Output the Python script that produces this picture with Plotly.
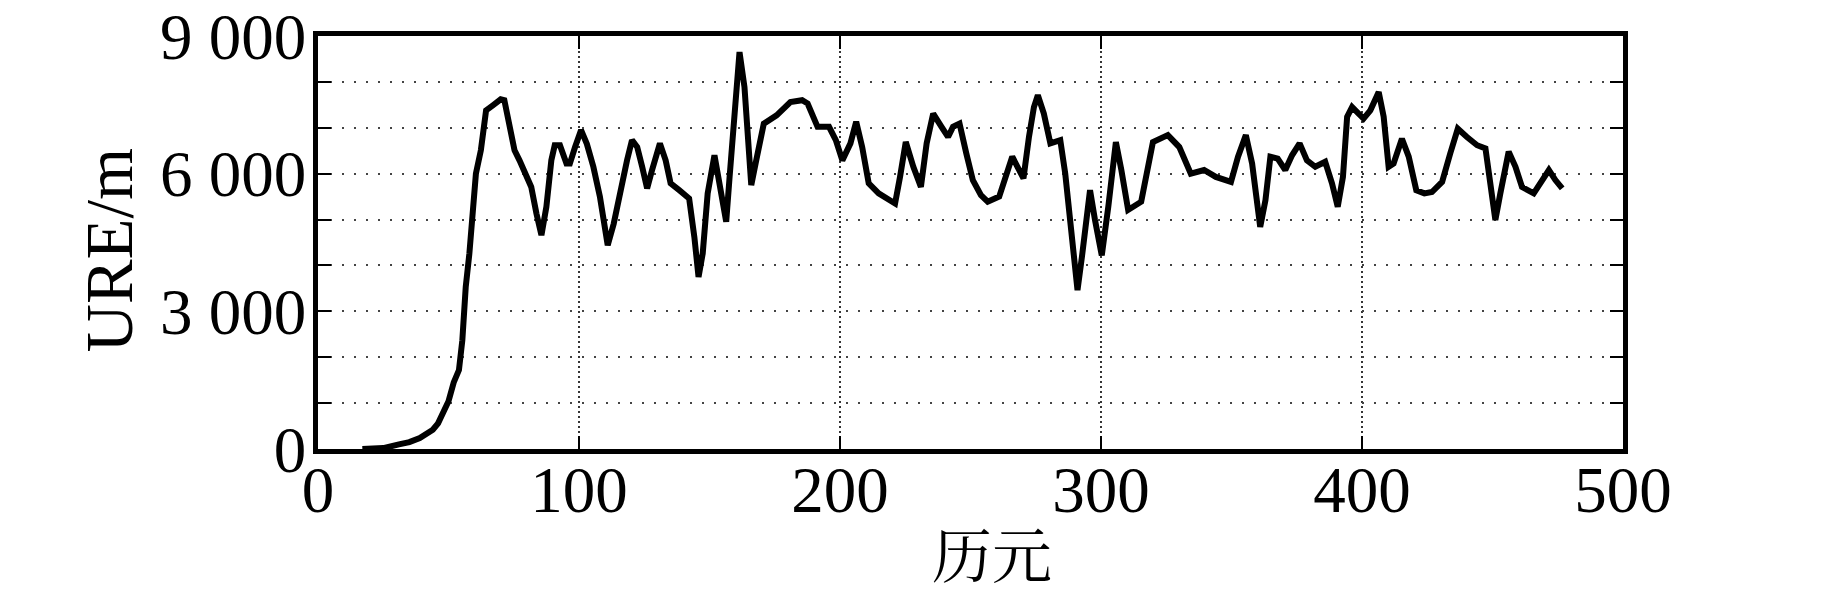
import plotly.graph_objects as go

# URE per epoch
epoch = [17, 25, 31, 35, 39, 42, 44, 46, 48, 50, 52, 54, 55.3, 56.6, 58, 59, 60, 60.5,
         62.4, 64.4, 67, 70, 71.4, 73.4, 75.3, 77.2, 79, 81.7, 83.7, 85.6, 87.5, 89.4,
         90.7, 92.7, 95.2, 96.5, 98.5, 100.8, 103, 105.5, 108, 110, 111, 113.3, 115.8,
         118.4, 120.3, 122.3, 124.2, 126.1, 128, 131, 133.2, 135.1, 138.4, 142.2, 144.2,
         145.8, 147.4, 149.3, 151.9, 153.8, 156.4, 157.7, 159.6, 161.5, 163.4, 164.7,
         166, 167.9, 170.8, 175.7, 181, 185.5, 187.6, 191.4, 195.8, 198.4, 200.9, 204,
         206.2, 208.5, 211, 214.8, 221.1, 223, 225.2, 228.1, 231, 233.2, 235.7, 238.9,
         241.4, 243.3, 245.8, 248.4, 250.9, 254, 256.6, 261, 263.5, 266, 268, 270.3,
         272.4, 274.3, 275.8, 278.1, 280.6, 284.4, 286.3, 288.2, 289.5, 291, 292.7,
         294.6, 295.8, 297.7, 300.3, 302.8, 305.7, 307.8, 310.4, 315.4, 318, 319.9,
         325.6, 330, 334.4, 339.5, 344, 349.8, 352.5, 355.5, 357.9, 359.8, 361, 363,
         364.9, 367.7, 370.6, 373.2, 376.1, 378.9, 382.1, 385.9, 388.5, 390.7, 392.7,
         394.3, 396.2, 400.6, 403.2, 406.4, 408.3, 410.2, 412.1, 415.3, 417.9, 420.8,
         423.9, 426.8, 430.7, 433.8, 436.7, 440.2, 444.1, 447.3, 449.2, 451.1, 453,
         456.2, 458.8, 461.3, 465.8, 469, 471.6, 474.1, 476.7]
ure = [0, 20, 100, 150, 240, 340, 420, 560, 780, 1040, 1450, 1720, 2370, 3530, 4260, 4900,
       5500, 6000, 6510, 7380, 7490, 7620, 7600, 7020, 6510, 6290, 6080, 5710, 5130, 4660,
       5280, 6290, 6620, 6620, 6220, 6220, 6580, 6950, 6650, 6150, 5500, 4840, 4440, 4910,
       5640, 6290, 6730, 6580, 6150, 5680, 6080, 6660, 6290, 5790, 5640, 5460, 4620, 3750,
       4260, 5570, 6400, 5710, 4950, 5930, 7530, 8650, 7890, 6880, 5750, 6290, 7090, 7270,
       7560, 7600, 7530, 7020, 7020, 6730, 6290, 6660, 7130, 6580, 5790, 5570, 5350, 5930,
       6690, 6150, 5710, 6660, 7310, 7020, 6800, 7020, 7090, 6440, 5860, 5530, 5390, 5500,
       5930, 6370, 6150, 5900, 6800, 7450, 7710, 7310, 6660, 6730, 6000, 4990, 4110, 3460,
       4190, 5280, 5640, 4990, 4220, 5280, 6690, 6080, 5210, 5390, 6150, 6690, 6840, 6580,
       6000, 6080, 5930, 5820, 6370, 6840, 6220, 5280, 4840, 5420, 6370, 6330, 6080, 6400,
       6660, 6290, 6150, 6260, 5790, 5280, 5930, 7240, 7450, 7200, 7380, 7780, 7240, 6150,
       6220, 6760, 6370, 5640, 5570, 5600, 5820, 6440, 6980, 6800, 6620, 6550, 5710, 4990,
       5570, 6480, 6150, 5710, 5570, 5860, 6080, 5860, 5680]

x_ticks = [0, 100, 200, 300, 400, 500]
y_ticks = [0, 1000, 2000, 3000, 4000, 5000, 6000, 7000, 8000, 9000]
y_labels = ["0", "", "", "3 000", "", "", "6 000", "", "", "9 000"]

serif = "Liberation Serif, Times New Roman, serif"

fig = go.Figure()
fig.add_trace(go.Scatter(x=epoch, y=ure, mode="lines",
                         line=dict(color="black", width=6), showlegend=False))

# the page body adds 8px around the figure, so the figure is 8px smaller
fig.update_layout(
    width=1835, height=583,
    paper_bgcolor="white", plot_bgcolor="white",
    margin=dict(l=310, r=220, t=28, b=142, autoexpand=False),
    font=dict(family=serif, size=65, color="black"),
    annotations=[
        dict(text="历元", xref="paper", yref="paper", x=0.5165, y=0,
             yshift=-103, xanchor="center", yanchor="middle", showarrow=False,
             font=dict(family="Noto Serif CJK SC, Liberation Serif, Noto Sans CJK SC",
                       size=60)),
        dict(text="URE/m", xref="paper", yref="paper", x=0, y=0.5,
             xshift=-210, yshift=-8, textangle=-90, xanchor="center",
             yanchor="middle", showarrow=False, font=dict(family=serif, size=67)),
    ],
)

fig.update_xaxes(
    range=[0, 500], tickvals=x_ticks, ticks="inside", ticklen=13, tickwidth=2,
    tickcolor="black", showline=True, linewidth=4.5, linecolor="black", mirror="ticks",
    showgrid=True, gridcolor="#333333", gridwidth=1.5, griddash="2px,3px",
    zeroline=False, tickfont=dict(size=65), automargin=False, ticklabelstandoff=-20,
    ticklabeloverflow="allow",
)
fig.update_yaxes(
    range=[0, 9000], tickvals=y_ticks, ticktext=y_labels, ticks="inside", ticklen=13,
    tickwidth=2, tickcolor="black", showline=True, linewidth=4.5, linecolor="black",
    mirror="ticks", showgrid=True, gridcolor="#444444", gridwidth=1.5,
    griddash="2px,10px", zeroline=False, tickfont=dict(size=65), automargin=False,
    ticklabelstandoff=-6, ticklabeloverflow="allow",
)

fig.write_html("out.html")
